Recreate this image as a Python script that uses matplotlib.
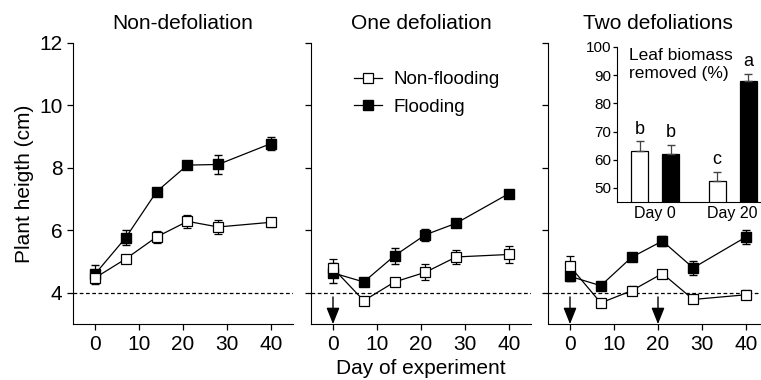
import matplotlib.pyplot as plt
from matplotlib.lines import Line2D

plt.rcParams.update({"font.family": ["Liberation Sans", "DejaVu Sans"], "font.size": 13})

DAYS = [0, 7, 14, 21, 28, 40]
PANEL_TITLES = ["Non-defoliation", "One defoliation", "Two defoliations"]

# mean plant height (cm) and SE for each panel
NONFLOOD = [
    [4.48, 5.09, 5.79, 6.29, 6.11, 6.26],
    [4.79, 3.75, 4.35, 4.66, 5.15, 5.23],
    [4.85, 3.68, 4.07, 4.62, 3.79, 3.94],
]
NONFLOOD_SE = [
    [0.10, 0.06, 0.20, 0.20, 0.23, 0.15],
    [0.28, 0.05, 0.10, 0.25, 0.22, 0.27],
    [0.32, 0.05, 0.15, 0.12, 0.05, 0.15],
]
FLOOD = [
    [4.60, 5.77, 7.24, 8.09, 8.11, 8.78],
    [4.64, 4.35, 5.19, 5.86, 6.23, 7.18],
    [4.53, 4.23, 5.14, 5.66, 4.80, 5.79],
]
FLOOD_SE = [
    [0.30, 0.25, 0.10, 0.10, 0.30, 0.22],
    [0.32, 0.05, 0.26, 0.20, 0.05, 0.05],
    [0.15, 0.05, 0.05, 0.15, 0.23, 0.22],
]
DEFOLIATION_DAYS = [[], [0], [0, 20]]

# inset: leaf biomass removed (%)
INSET_LABELS = ["Day 0", "Day 20"]
INSET_VALUES = [63.2, 62.0, 52.3, 88.0]
INSET_SE = [3.3, 3.2, 3.3, 2.5]
INSET_LETTERS = ["b", "b", "c", "a"]
INSET_FILLED = [False, True, False, True]

fig = plt.figure(figsize=(7.61, 3.80), dpi=100)
lefts = [73 / 761, 311 / 761, 548 / 761]
axes = [fig.add_axes([l, 0.147, 220 / 761, 0.74]) for l in lefts]

for i, ax in enumerate(axes):
    ax.axhline(4, ls=(0, (3, 2)), c="k", lw=0.9, zorder=1)
    ax.errorbar(DAYS, NONFLOOD[i], yerr=NONFLOOD_SE[i], color="k", lw=0.9,
                marker="s", ms=7, mfc="white", mec="k", mew=0.9,
                capsize=3, elinewidth=0.9, zorder=3)
    ax.errorbar(DAYS, FLOOD[i], yerr=FLOOD_SE[i], color="k", lw=0.9,
                marker="s", ms=7, mfc="k", mec="k",
                capsize=3, elinewidth=0.9, zorder=2)
    for d in DEFOLIATION_DAYS[i]:
        ax.annotate("", xy=(d, 3.0), xytext=(d, 3.87),
                    arrowprops=dict(arrowstyle="-|>,head_length=1.0,head_width=0.4",
                                    mutation_scale=10, lw=1, color="k",
                                    shrinkA=0, shrinkB=0))
    ax.set_xlim(-5, 45)
    ax.set_ylim(3, 12)
    ax.set_xticks([0, 10, 20, 30, 40])
    ax.set_yticks([4, 6, 8, 10, 12])
    ax.spines[["top", "right"]].set_visible(False)
    ax.spines["left"].set_bounds(3, 12)
    ax.tick_params(direction="out", length=4, width=0.9, labelsize=15)
    ax.set_title(PANEL_TITLES[i], fontsize=15, pad=10)
    if i > 0:
        ax.tick_params(labelleft=False)

axes[0].set_ylabel("Plant heigth (cm)", fontsize=15)
axes[1].set_xlabel("Day of experiment", fontsize=15, labelpad=4)
handles = [
    Line2D([], [], color="k", lw=0.9, marker="s", ms=7, mfc="white", mec="k", mew=0.9),
    Line2D([], [], color="k", lw=0.9, marker="s", ms=7, mfc="k", mec="k"),
]
axes[1].legend(handles, ["Non-flooding", "Flooding"], loc="upper left",
               bbox_to_anchor=(0.12, 0.96), frameon=False, fontsize=13.5,
               handlelength=1.5, handletextpad=0.6, labelspacing=0.55)

# inset
ins = fig.add_axes([617 / 761, 0.4684, 146.6 / 761, 0.408])
xpos = [0, 1, 2.5, 3.5]
colors = ["k" if f else "white" for f in INSET_FILLED]
ins.bar(xpos, INSET_VALUES, width=0.55, color=colors, edgecolor="k", lw=0.9,
        yerr=[[0] * 4, INSET_SE], error_kw=dict(ecolor="#444444", capsize=3, elinewidth=0.9))
for x, v, e, t in zip(xpos, INSET_VALUES, INSET_SE, INSET_LETTERS):
    ins.text(x, v + e + 1.3, t, ha="center", va="bottom", fontsize=13)
ins.text(-0.35, 99.5, "Leaf biomass\nremoved (%)", ha="left", va="top", fontsize=12.5,
         linespacing=1.2)
ins.set_xlim(-0.73, 4.0)
ins.set_ylim(45, 100)
ins.set_yticks([50, 60, 70, 80, 90, 100])
ins.set_xticks([0.5, 3.0])
ins.set_xticklabels(INSET_LABELS)
ins.spines[["top", "right"]].set_visible(False)
ins.tick_params(axis="y", direction="out", length=3, width=0.9, labelsize=11, pad=1)
ins.tick_params(axis="x", length=0, labelsize=11.5, pad=3)
ins.patch.set_alpha(0)

fig.savefig("out.png", dpi=100)
